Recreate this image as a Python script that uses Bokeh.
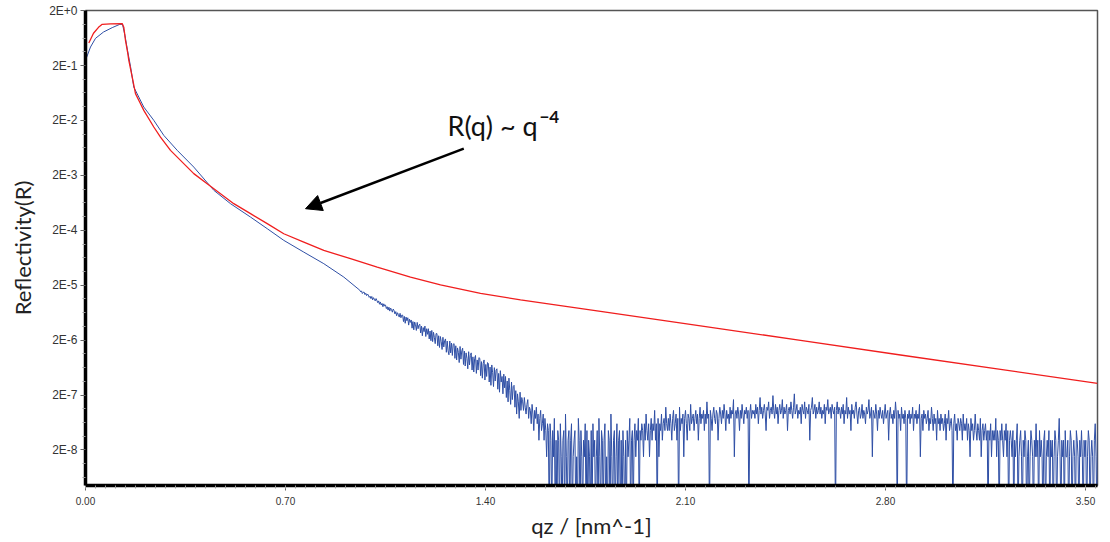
import numpy as np
from bokeh.plotting import figure
from bokeh.models import (Range1d, FixedTicker, CustomJSTickFormatter, Label,
                          Arrow, NormalHead)
from bokeh.embed import file_html
from bokeh.resources import INLINE

# ---------------- data ----------------
red_q = [0.0116, 0.028, 0.0455, 0.0585, 0.0875, 0.1285, 0.134, 0.14, 0.148,
         0.1516, 0.1635, 0.175, 0.1925, 0.204, 0.239, 0.2625, 0.2975, 0.3325,
         0.379, 0.4259, 0.4725, 0.519, 0.5775, 0.636, 0.694, 0.764, 0.834,
         0.9275, 1.021, 1.1375, 1.2425, 1.3826, 1.5226, 1.8026, 2.1526, 2.5026,
         2.8526, 3.2026, 3.542]
red_R = [0.514, 0.773, 0.993, 1.125, 1.15, 1.16, 1.0, 0.575, 0.333,
         0.249, 0.1236, 0.0615, 0.0404, 0.0305, 0.0152, 9.97e-3, 5.71e-3, 3.75e-3,
         2.15e-3, 1.41e-3, 9.29e-4, 6.10e-4, 4.01e-4, 2.64e-4, 1.73e-4, 1.22e-4, 8.6e-5,
         6.08e-5, 4.27e-5, 2.81e-5, 2.02e-5, 1.42e-5, 1.08e-5, 6.67e-6, 3.63e-6, 1.98e-6,
         1.07e-6, 5.85e-7, 3.25e-7]

blue_q = [0.0, 0.0175, 0.035, 0.063, 0.0935, 0.12, 0.1295, 0.138, 0.147, 0.1575,
          0.169, 0.204, 0.239, 0.274, 0.321, 0.379, 0.449, 0.5075, 0.5775, 0.636,
          0.694, 0.764, 0.834, 0.904]
blue_R = [0.249, 0.435, 0.625, 0.815, 0.98, 1.125, 1.125, 0.71, 0.378, 0.193,
          0.0811, 0.0351, 0.0201, 0.0107, 5.71e-3, 2.83e-3, 1.07e-3, 6.1e-4, 3.48e-4, 2.14e-4,
          1.31e-4, 8.0e-5, 4.93e-5, 2.81e-5]

# detector counts (1 count = count_scale in R) on the measurement grid
count_scale = 1.5e-8
zero_floor = 1e-9          # zero counts fall below the axis
scan_q0, scan_step = 0.96, 0.003
blue_counts_decay = [
    1080, 1010, 1050, 940, 990, 1000, 900, 950, 860, 920,
    880, 800, 840, 760, 830, 720, 790, 740, 690, 760,
    700, 640, 690, 600, 660, 580, 620, 540, 610, 560,
    580, 500, 540, 470, 530, 450, 510, 480, 430, 490,
    460, 400, 440, 370, 420, 390, 350, 410, 340, 380,
    380, 290, 360, 270, 350, 300, 340, 250, 320, 280,
    310, 220, 290, 205, 285, 255, 200, 280, 215, 250,
    260, 180, 240, 160, 225, 190, 240, 155, 215, 170,
    215, 140, 195, 130, 200, 125, 185, 150, 115, 175,
    175, 105, 160, 98, 155, 125, 90, 150, 100, 130,
    140, 80, 128, 85, 72, 128, 78, 118, 70, 112,
    115, 62, 105, 58, 96, 80, 52, 102, 60, 85,
    95, 48, 84, 45, 78, 62, 40, 82, 47, 70,
    78, 38, 66, 35, 62, 70, 33, 58, 38, 64,
    62, 30, 54, 27, 50, 58, 25, 48, 29, 52,
    50, 23, 43, 20, 47, 34, 19, 42, 24, 38,
    40, 17, 33, 15, 37, 23, 29, 14, 32, 18,
    29, 12, 24, 10, 27, 16, 9, 23, 11, 19,
    20, 8, 16, 6, 14, 10, 5, 15, 7, 12]
blue_counts_edge = [10, 7, 12, 8, 6, 9, 11, 5, 8, 7, 4, 9, 6, 3, 7,
                    5, 8, 4, 6, 2, 5, 7, 3, 4, 6, 2, 5, 3, 1, 4]
blue_counts_low = [
    3, 0, 4, 2, 0, 3, 1, 5, 0, 2, 0, 3, 2, 0, 4, 1, 0, 2, 3, 0,
    6, 1, 0, 2, 3, 0, 2, 4, 0, 1, 2, 3, 0, 1, 0, 5, 2, 0, 3, 1,
    0, 2, 1, 4, 0, 3, 0, 2, 1, 0, 3, 0, 4, 1, 2, 0, 1, 3, 0, 5,
    1, 0, 3, 2, 0, 2, 4, 0, 1, 0, 3, 2, 0, 6, 1, 0, 2, 3, 0, 1,
    4, 0, 2, 3, 0, 2, 0, 3, 1, 0, 2, 0, 3, 1, 2, 5, 0, 2, 3, 0]
blue_counts_rise = [
    2, 4, 1, 3, 2, 5, 0, 3, 2, 4, 3, 1, 4, 2, 6, 3, 2, 4, 1, 3,
    5, 2, 4, 3, 7, 2, 4, 0, 5, 1, 4, 3, 6, 2, 4, 5, 3, 8, 4, 3,
    5, 3, 6, 4, 2, 5, 7, 3, 4, 6, 2, 5, 0, 8, 3, 5, 4, 6, 1, 5,
    7, 4, 2, 6, 5, 3, 9, 4, 5, 6, 3, 5, 7, 4, 6, 2, 5, 8, 4, 6,
    5, 7, 3, 6, 4, 10, 5, 6, 0, 7, 5, 3, 6, 8, 5, 4, 7, 6, 2, 5,
    8, 6, 4, 7, 5, 9, 6, 3, 7, 5, 6, 4, 8, 5, 7, 6, 11, 1, 6, 7,
    5, 8, 6, 3, 7, 5, 9, 6, 4, 7, 6, 8, 5, 7, 0, 6, 9, 5, 7, 6]
blue_counts_bump = [
    7, 5, 9, 6, 8, 4, 7, 12, 6, 8, 5, 7, 9, 6, 3, 8, 7, 10, 5, 7,
    8, 6, 13, 7, 5, 9, 6, 8, 4, 7, 9, 6, 7, 11, 5, 8, 6, 7, 9, 3,
    7, 8, 6, 10, 7, 5, 8, 14, 6, 7, 9, 5, 7, 6, 8, 4, 9, 7, 6, 10,
    5, 8, 7, 6, 9, 2, 7, 8, 12, 6, 7, 9, 5, 8, 6, 7, 10, 6, 8, 5,
    7, 6, 9, 4, 8, 7, 11, 6, 7, 8, 5, 9, 7, 6, 8, 0, 7, 10, 6, 8,
    7, 5, 8, 6, 9, 4, 7, 6, 12, 5, 8, 6, 7, 3, 9, 6, 7, 5, 8, 10,
    6, 4, 7, 8, 5, 6, 9, 5, 7, 6, 4, 8, 6, 7, 11, 5, 6, 8, 1, 7,
    6, 5, 9, 6, 3, 7, 5, 8, 6, 5, 7, 4, 6, 9, 5, 6, 7, 2, 6, 8,
    5, 6, 4, 7, 5, 10, 6, 0, 7, 5, 6, 3, 8, 5, 6, 4, 7, 5, 0, 6,
    5, 7, 4, 6, 5, 8, 3, 6, 5, 7, 4, 6, 5, 9, 1, 5, 6, 3, 7, 5]
blue_counts_fall = [
    6, 4, 5, 7, 3, 5, 4, 8, 5, 3, 6, 4, 5, 2, 7, 4, 5, 3, 6, 4,
    5, 3, 4, 6, 2, 5, 4, 7, 3, 4, 5, 3, 0, 4, 6, 3, 4, 2, 5, 4,
    3, 5, 4, 2, 6, 3, 4, 3, 5, 2, 4, 3, 1, 5, 3, 4, 2, 3, 6, 3,
    2, 4, 3, 2, 5, 1, 3, 4, 2, 3, 4, 2, 3, 0, 3, 2, 4, 1, 3, 2,
    3, 2, 5, 1, 3, 2, 0, 3, 2, 4, 2, 1, 3, 2, 4, 1, 3, 0, 2, 3]
blue_counts_end = [
    2, 1, 3, 0, 2, 1, 2, 4, 0, 1, 2, 3, 1, 0, 2, 1, 3, 2, 0, 1,
    2, 0, 1, 3, 2, 1, 0, 2, 1, 4, 1, 2, 0, 3, 1, 2, 1, 0, 2, 3,
    0, 1, 2, 1, 3, 0, 2, 1, 2, 0, 1, 3, 2, 0, 1, 2, 5, 1, 0, 2,
    1, 2, 0, 3, 1, 1, 2, 0, 1, 3, 2, 0, 1, 2, 1, 0, 3, 2, 1, 0,
    2, 1, 3, 1, 0, 2, 1, 2, 0, 1, 3, 2, 0, 1, 2, 1, 0, 2, 4, 1,
    0, 2, 5]

x_tick_values = [0.0, 0.7, 1.4, 2.1, 2.8, 3.5]
x_tick_labels = ["0.00", "0.70", "1.40", "2.10", "2.80", "3.50"]
y_tick_values = [2.0, 0.2, 0.02, 2e-3, 2e-4, 2e-5, 2e-6, 2e-7, 2e-8]
y_tick_labels = ["2E+0", "2E-1", "2E-2", "2E-3", "2E-4", "2E-5", "2E-6", "2E-7", "2E-8"]

annot_text = "R(q) ~ q"
annot_sup = "\u22124"
annot_q, annot_R = 1.267, 0.0163
annot_sup_q, annot_sup_R = 1.589, 0.0232
arrow_q0, arrow_R0 = 1.324, 6.12e-3
arrow_q1, arrow_R1 = 0.770, 4.94e-4

# ---------------- assemble blue series ----------------
counts = np.array(blue_counts_decay + blue_counts_edge + blue_counts_low +
                  blue_counts_rise + blue_counts_bump + blue_counts_fall +
                  blue_counts_end, dtype=float)
scan_q = scan_q0 + scan_step * np.arange(len(counts))
scan_R = np.where(counts > 0, counts * count_scale, zero_floor)

bq = np.concatenate([blue_q, scan_q])
bR = np.concatenate([blue_R, scan_R])

# ---------------- figure ----------------
p = figure(width=1110, height=542, y_axis_type="log",
           x_range=Range1d(0.0, 3.542), y_range=Range1d(4.5e-9, 2.01),
           output_backend="svg", toolbar_location=None,
           min_border_left=85, min_border_right=13, min_border_top=10,
           min_border_bottom=57)
p.background_fill_color = "white"
p.border_fill_color = "white"
p.outline_line_color = "#555555"
p.outline_line_width = 1.5
p.xgrid.visible = False
p.ygrid.visible = False

p.line(bq, bR, line_color="#2f4fa5", line_width=1.0)
p.line(red_q, red_R, line_color="#f01e1e", line_width=1.3)

# axes
x_minor = [round(0.035 * i, 4) for i in range(102)]
y_minor = [v * 10 ** (-j / 4) for v in y_tick_values for j in (1, 2, 3)]

fmt_code = """
for (let i = 0; i < vals.length; i++) {
  if (Math.abs(vals[i] - tick) <= 1e-6 * Math.abs(vals[i]) + 1e-12) return labels[i];
}
return "";
"""

xa = p.xaxis[0]
xa.ticker = FixedTicker(ticks=x_tick_values, minor_ticks=x_minor)
xa.formatter = CustomJSTickFormatter(args=dict(vals=x_tick_values, labels=x_tick_labels), code=fmt_code)
ya = p.yaxis[0]
ya.ticker = FixedTicker(ticks=y_tick_values, minor_ticks=y_minor)
ya.formatter = CustomJSTickFormatter(args=dict(vals=y_tick_values, labels=y_tick_labels), code=fmt_code)

for ax in (xa, ya):
    ax.axis_line_color = "black"
    ax.axis_line_width = 3.5
    ax.major_tick_in = 0
    ax.minor_tick_in = 0
    ax.major_tick_out = 5
    ax.minor_tick_out = 3
    ax.major_tick_line_color = "#666666"
    ax.minor_tick_line_color = "#999999"
    ax.major_label_text_font = "Liberation Sans"
    ax.major_label_text_color = "#333333"
    ax.axis_label_text_font = "Lato"
    ax.axis_label_text_font_style = "normal"
    ax.axis_label_text_font_size = "22px"
    ax.axis_label_text_color = "#222222"

xa.major_label_text_font_size = "10px"
xa.major_label_standoff = 6
xa.axis_label = "qz / [nm^-1]"
xa.axis_label_standoff = 4
ya.major_label_text_font_size = "12px"
ya.major_label_standoff = 3
ya.axis_label = "Reflectivity(R)"
ya.axis_label_standoff = 10

# annotation
p.add_layout(Label(x=annot_q, y=annot_R, text=annot_text, text_font="Lato",
                   text_font_size="27px", text_baseline="alphabetic", text_color="#111111"))
p.add_layout(Label(x=annot_sup_q, y=annot_sup_R, text=annot_sup, text_font="Lato",
                   text_font_size="17px", text_font_style="bold",
                   text_baseline="alphabetic", text_color="#111111"))
p.add_layout(Arrow(end=NormalHead(size=16, fill_color="black", line_color="black"),
                   x_start=arrow_q0, y_start=arrow_R0, x_end=arrow_q1, y_end=arrow_R1,
                   line_color="black", line_width=2.5))

open("out.html", "w").write(file_html(p, INLINE))
